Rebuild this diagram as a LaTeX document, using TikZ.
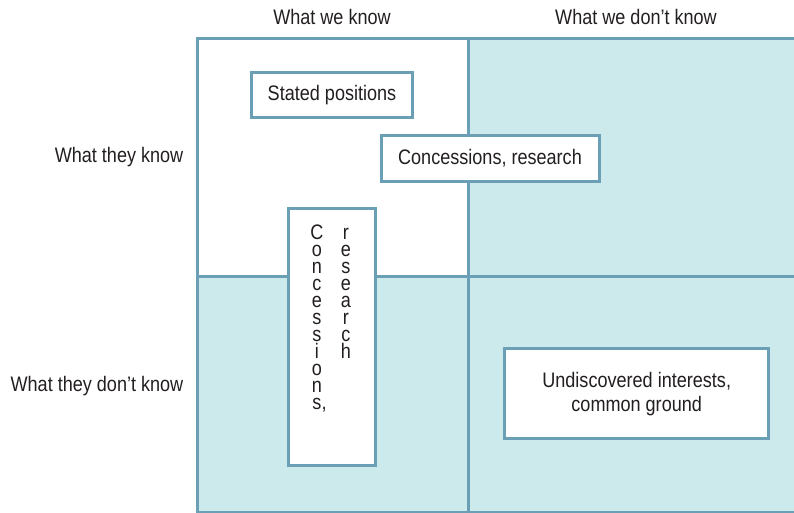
\documentclass[tikz,border=0pt]{standalone}
\usepackage{fontspec}
\setmainfont{Liberation Sans}[FakeStretch=0.86]
\definecolor{framecol}{RGB}{106,159,181}
\definecolor{cellfill}{RGB}{204,234,235}
\definecolor{inkgray}{RGB}{35,31,32}
\begin{document}
\begin{tikzpicture}[x=1pt,y=-1pt,
  every node/.style={font=\fontsize{21}{24}\selectfont, text=inkgray, inner sep=0pt},
  grid/.style={draw=framecol, line width=3pt},
  panel/.style={draw=framecol, line width=3pt, fill=white, align=center},
  letter/.style={anchor=base, text height=11pt, text depth=0pt},
]
\useasboundingbox (0,0) rectangle (794,513);
\clip (0,0) rectangle (794,513);

% shaded quadrants of the matrix
\fill[cellfill] (468,38.5) rectangle (800,520);
\fill[cellfill] (197,276) rectangle (468,520);

% matrix frame and dividers
\draw[grid] (197,38.5) rectangle (800,512);
\draw[grid] (468,38.5) -- (468,512);
\draw[grid] (197,276) -- (800,276);

% column and row headings
\node[anchor=base] (weknow) at (332,25) {What we know};
\node[anchor=base] (wedontknow) at (636,25) {What we don't know};
\node[anchor=base east] (theyknow) at (183.5,163) {What they know};
\node[anchor=base east] (theydontknow) at (183.5,391.5) {What they don't know};

% boxes placed on the matrix
\node[panel, minimum width=161pt, minimum height=45.6pt] (stated) at (332,95) {Stated positions};
\node[panel, minimum width=218pt, minimum height=45.7pt] (concH) at (490,158.3) {Concessions, research};
\node[panel, minimum width=263.7pt, minimum height=89.7pt] (undisc) at (636.7,393.7)
  {Undiscovered interests,\\common ground};
\node[panel, minimum width=87pt, minimum height=257pt] (concV) at (332.3,336.7) {};

% stacked letters in the tall box
\foreach \ch [count=\i] in {C,o,n,c,e,s,s,i,o,n,{s\rlap{,}}}
  \node[letter] (colA\i) at (317,{239+17*(\i-1)}) {\ch};
\foreach \ch [count=\i] in {r,e,s,e,a,r,c,h}
  \node[letter] (colB\i) at (346,{239+17*(\i-1)}) {\ch};
\end{tikzpicture}
\end{document}
